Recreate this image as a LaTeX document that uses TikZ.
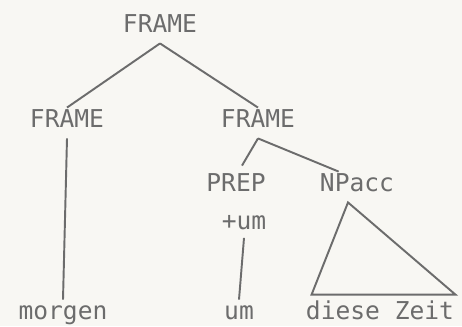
\documentclass[tikz,border=0pt]{standalone}
\usepackage{fontspec}
\setmonofont{DejaVu Sans Mono}
\usepackage{tikz}
\usetikzlibrary{calc,positioning}
\definecolor{paper}{HTML}{F8F7F3}
\definecolor{ink}{HTML}{6C6C6C}
\tikzset{
  % a category or word label of the tree, typewriter look
  tlabel/.style = {inner sep=0.15cm, text=ink, font=\ttfamily\fontsize{14}{17}\selectfont,
                   text height=1.6ex, text depth=0.4ex},
  % ordinary tree branch
  tedge/.style  = {draw=ink, line width=1.1pt},
  % a collapsed subtree (triangle)
  tri/.style    = {draw=ink, line width=1.1pt, line join=miter},
}

\begin{document}
\begin{tikzpicture}
    \fill[paper] (0,0) rectangle (9.24,6.52);
    \useasboundingbox (0,0) rectangle (9.24,6.52);
    % upper part: frame splits into two frames
    \node[tlabel] (root) at (3.2,5.96) {FRAME};
    \node[tlabel] (lf) at (1.34,4.06) {FRAME};
    \node[tlabel] (rf) at (5.16,4.06) {FRAME};
    \draw[tedge] (root.south) -- (lf.north);
    \draw[tedge] (root.south) -- (rf.north);
    % right frame: preposition and accusative NP
    \node[tlabel] (prep) at (4.72,2.78) {PREP};
    \node[tlabel,inner sep=0.1cm] (plus) at (4.88,2.02) {+um};
    \node[tlabel] (np) at (7.14,2.78) {NPacc};
    \draw[tedge] (rf.south) -- ($(prep.north)+(0.12,0.12)$);
    \draw[tedge] (rf.south) -- (np.140);
    % leaves
    \node[tlabel] (morgen) at (1.26,0.22) {morgen};
    \node[tlabel] (um) at (4.78,0.22) {um};
    \node[tlabel,inner xsep=0.02cm] (dz) at (7.6,0.22) {diese Zeit};
    \draw[tedge] (lf.south) -- (morgen.north);
    \draw[tedge] (plus.south) -- (um.north);
    \draw[tri] ($(np.south)+(-0.18,0)$) -- ($(dz.north west)+(0.14,0.1)$) -- ($(dz.north east)+(0,0.1)$) -- cycle;
\end{tikzpicture}
\end{document}
